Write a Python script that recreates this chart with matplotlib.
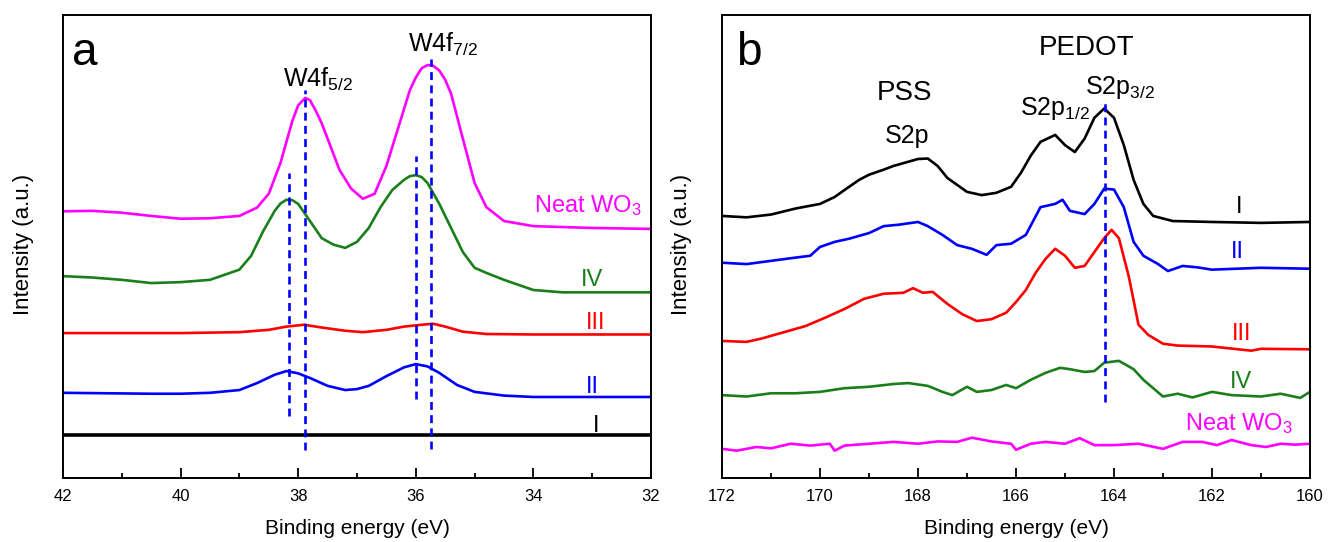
import matplotlib
matplotlib.use("Agg")
import matplotlib.pyplot as plt
from matplotlib.ticker import MultipleLocator

plt.rcParams['font.family'] = ['Liberation Sans', 'DejaVu Sans']
plt.rcParams['mathtext.fontset'] = 'custom'
plt.rcParams['mathtext.rm'] = 'Liberation Sans'

# ---------------- Panel a : W4f ----------------
a_neat_x = [42, 41.5, 41, 40.5, 40, 39.5, 39, 38.7, 38.5, 38.3, 38.1, 38.0, 37.88, 37.8, 37.7, 37.6, 37.5, 37.3,
            37.1, 36.9, 36.7, 36.5, 36.3, 36.1, 36.0, 35.9, 35.8, 35.7, 35.6, 35.5, 35.4, 35.2, 35.0, 34.8, 34.5,
            34.0, 33, 32]
a_neat_y = [57.6, 57.7, 57.3, 56.6, 56.0, 56.1, 56.6, 58.4, 61.4, 68.1, 77.1, 80.5, 82.1, 81.6, 79.3, 76.6, 73.3,
            66.6, 62.5, 60.3, 61.4, 67.4, 75.6, 83.8, 86.5, 88.5, 89.2, 89.0, 88.0, 86.0, 83.0, 73.3, 63.7, 58.5,
            55.5, 54.4, 54.0, 53.8]

a_iv_x = [42, 41.5, 41, 40.5, 40, 39.5, 39, 38.8, 38.6, 38.4, 38.3, 38.2, 38.1, 38.0, 37.8, 37.6, 37.4, 37.2, 37.0,
          36.8, 36.6, 36.4, 36.2, 36.1, 36.0, 35.9, 35.8, 35.6, 35.4, 35.2, 35.0, 34.8, 34.5, 34.0, 33.5, 33, 32]
a_iv_y = [43.6, 43.3, 42.8, 42.1, 42.3, 42.8, 45.0, 48.0, 53.2, 57.7, 59.3, 60.1, 60.0, 59.2, 55.5, 51.8, 50.4,
          49.7, 51.0, 54.0, 58.5, 62.2, 64.4, 65.2, 65.4, 65.0, 63.7, 59.2, 54.0, 48.8, 45.4, 44.3, 42.8, 40.6,
          40.1, 40.1, 40.1]

a_iii_x = [42, 40, 39, 38.5, 38.2, 37.9, 37.6, 37.2, 36.9, 36.5, 36.2, 35.9, 35.7, 35.5, 35.2, 34.8, 34, 32]
a_iii_y = [31.3, 31.3, 31.5, 32.0, 32.7, 33.1, 32.5, 31.8, 31.5, 32.0, 32.7, 33.1, 33.3, 32.7, 31.6, 31.1, 31.0,
           31.0]

a_ii_x = [42, 40.5, 40, 39.5, 39, 38.7, 38.4, 38.2, 38.0, 37.8, 37.5, 37.2, 37.0, 36.8, 36.5, 36.2, 36.0, 35.8,
          35.6, 35.3, 35.0, 34.5, 34, 32]
a_ii_y = [18.4, 18.2, 18.2, 18.4, 19.0, 20.5, 22.3, 23.1, 22.6, 21.6, 19.9, 19.0, 19.2, 19.9, 22.0, 23.9, 24.6,
          24.1, 22.7, 20.1, 18.6, 17.8, 17.5, 17.5]

a_i_x = [42, 32]
a_i_y = [9.2, 9.2]

# dashed guide lines (x, y_bottom, y_top)
a_guides_x = [38.16, 37.88, 36.0, 35.74]
a_guides_y0 = [13.4, 6.0, 17.1, 6.3]
a_guides_y1 = [65.9, 83.8, 69.6, 90.5]

# ---------------- Panel b : S2p ----------------
b_i_x = [172, 171.5, 171, 170.5, 170, 169.7, 169.5, 169.2, 169.0, 168.7, 168.5, 168.2, 168.0, 167.8, 167.6, 167.4,
         167.2, 167.0, 166.7, 166.4, 166.1, 165.9, 165.7, 165.5, 165.2, 165.0, 164.8, 164.6, 164.4, 164.2, 164.0,
         163.8, 163.6, 163.4, 163.2, 162.8, 162, 161, 160]
b_i_y = [56.6, 56.3, 56.9, 58.2, 59.2, 60.7, 62.2, 64.4, 65.5, 66.6, 67.4, 68.3, 68.9, 69.0, 67.4, 64.8,
         63.3, 61.8, 61.1, 61.6, 62.9, 65.9, 69.6, 72.6, 74.1, 71.9, 70.4, 73.3, 77.8, 79.8, 77.8,
         71.9, 64.4, 59.2, 56.6, 55.5, 55.3, 55.1, 55.3]

b_ii_x = [172, 171.5, 171, 170.5, 170.2, 170.0, 169.7, 169.4, 169.0, 168.7, 168.4, 168.0, 167.8, 167.5, 167.2,
          166.9, 166.6, 166.4, 166.1, 165.8, 165.5, 165.2, 165.05, 164.9, 164.6, 164.4, 164.2, 164.0, 163.8, 163.6,
          163.4, 163.1, 162.9, 162.6, 162.3, 162, 161, 160]
b_ii_y = [46.5, 46.2, 46.9, 47.6, 48.0, 49.9, 51.0, 51.7, 52.9, 54.4, 54.7, 55.3, 54.4, 52.5, 50.3,
          49.5, 48.2, 50.3, 50.6, 52.5, 58.5, 59.2, 60.1, 57.7, 57.0, 59.2, 62.5, 62.3, 58.5, 51.0,
          48.0, 46.2, 44.7, 45.8, 45.5, 45.0, 45.4, 45.2]

b_iii_x = [172, 171.5, 171.2, 170.8, 170.3, 169.9, 169.5, 169.1, 168.7, 168.3, 168.1, 167.9, 167.7, 167.4, 167.1,
           166.8, 166.5, 166.2, 166.0, 165.8, 165.6, 165.4, 165.2, 165.0, 164.8, 164.6, 164.4, 164.2, 164.05, 163.9,
           163.7, 163.5, 163.3, 163.0, 162.7, 162, 161.2, 161, 160]
b_iii_y = [29.6, 29.4, 30.1, 31.3, 32.8, 34.6, 36.5, 38.7, 39.8, 40.0, 41.0, 40.0, 40.2, 37.6, 35.4,
           33.9, 34.3, 35.7, 38.0, 40.6, 44.3, 47.3, 49.5, 48.0, 45.4, 45.8, 48.8, 51.8, 53.6, 51.8,
           43.6, 33.1, 30.9, 29.0, 28.6, 28.4, 27.5, 27.9, 27.8]

b_iv_x = [172, 171.5, 171, 170.5, 170, 169.5, 169, 168.5, 168.2, 167.8, 167.5, 167.3, 167.0, 166.8, 166.5, 166.2,
          166.0, 165.7, 165.4, 165.1, 164.9, 164.6, 164.4, 164.2, 163.9, 163.6, 163.4, 163.0, 162.7, 162.4, 162,
          161.6, 161, 160.6, 160.2, 160]
b_iv_y = [17.9, 17.6, 18.3, 18.3, 18.6, 19.4, 19.7, 20.3, 20.5, 19.9, 18.6, 17.9, 19.7, 18.6, 19.0, 20.1,
          19.4, 21.2, 22.7, 23.8, 23.5, 22.9, 23.1, 24.9, 25.3, 23.5, 21.2, 17.6, 18.2, 17.4, 18.6,
          17.9, 17.6, 18.2, 17.3, 18.6]

b_neat_x = [172, 171.7, 171.3, 171, 170.6, 170.2, 169.8, 169.7, 169.5, 169, 168.5, 168, 167.6, 167.2, 166.9, 166.5,
            166.1, 166.0, 165.7, 165.4, 165.0, 164.7, 164.4, 164.0, 163.5, 163.0, 162.6, 162.2, 161.9, 161.6, 161.2,
            160.9, 160.6, 160.3, 160]
b_neat_y = [6.3, 5.9, 6.7, 6.4, 7.4, 7.0, 7.4, 5.9, 7.0, 7.4, 7.8, 7.4, 7.9, 7.8, 8.7, 7.9,
            7.4, 6.1, 7.4, 7.8, 7.4, 8.6, 7.1, 7.1, 7.4, 6.3, 7.8, 7.8, 7.1, 8.2, 7.1,
            6.7, 7.4, 7.2, 7.4]

b_guide_x = 164.19
b_guide_y0 = 16.4
b_guide_y1 = 81.5

a_xticks = [42, 40, 38, 36, 34, 32]
b_xticks = [172, 170, 168, 166, 164, 162, 160]

MAG = '#ff00ff'
GRN = '#1a7f1a'
RED = '#ff0000'
BLU = '#0000ff'
BLK = '#000000'

W, H = 1328, 542
fig = plt.figure(figsize=(W / 100, H / 100), dpi=100)
bot, top = 478, 15
axa = fig.add_axes([63 / W, (H - bot) / H, (651 - 63) / W, (bot - top) / H])
axb = fig.add_axes([722 / W, (H - bot) / H, (1310 - 722) / W, (bot - top) / H])

def style(ax, xl, ticks):
    ax.set_xlim(*xl)
    ax.set_ylim(0, 100)
    ax.set_yticks([])
    ax.set_xticks(ticks)
    ax.xaxis.set_minor_locator(MultipleLocator(1))
    ax.tick_params(axis='x', which='major', direction='in', length=7.2, width=1.3, labelsize=12, pad=8)
    ax.tick_params(axis='x', which='minor', direction='in', length=3.8, width=1.3)
    for s in ax.spines.values():
        s.set_linewidth(1.4)
    ax.set_xlabel('Binding energy (eV)', fontsize=15, labelpad=11)

LW = 1.9
# panel a
axa.plot(a_neat_x, a_neat_y, color=MAG, lw=LW)
axa.plot(a_iv_x, a_iv_y, color=GRN, lw=LW)
axa.plot(a_iii_x, a_iii_y, color=RED, lw=LW)
axa.plot(a_ii_x, a_ii_y, color=BLU, lw=LW)
axa.plot(a_i_x, a_i_y, color=BLK, lw=2.6)
for gx, g0, g1 in zip(a_guides_x, a_guides_y0, a_guides_y1):
    axa.plot([gx, gx], [g0, g1], color=BLU, lw=1.9, ls=(0, (3, 2)))
style(axa, (42, 32), a_xticks)
CL = 17
axa.text(41.63, 91.9, 'a', fontsize=33, ha='center', va='center')
axa.text(38.26, 84.4, r'W4f$\mathregular{_{5/2}}$', fontsize=18, ha='left', va='baseline')
axa.text(36.13, 92.0, r'W4f$\mathregular{_{7/2}}$', fontsize=18, ha='left', va='baseline')
axa.text(32.15, 57.5, r'Neat WO$\mathregular{_3}$', fontsize=CL, color=MAG, ha='right', va='baseline')
axa.text(33.0, 41.5, 'IV', fontsize=CL, color=GRN, ha='center', va='baseline')
axa.text(32.95, 32.2, 'III', fontsize=CL, color=RED, ha='center', va='baseline')
axa.text(33.0, 18.4, 'II', fontsize=CL, color=BLU, ha='center', va='baseline')
axa.text(32.94, 9.9, 'I', fontsize=CL, color=BLK, ha='center', va='baseline')

# panel b
axb.plot(b_i_x, b_i_y, color=BLK, lw=LW)
axb.plot(b_ii_x, b_ii_y, color=BLU, lw=LW)
axb.plot(b_iii_x, b_iii_y, color=RED, lw=LW)
axb.plot(b_iv_x, b_iv_y, color=GRN, lw=LW)
axb.plot(b_neat_x, b_neat_y, color=MAG, lw=LW)
axb.plot([b_guide_x, b_guide_x], [b_guide_y0, b_guide_y1], color=BLU, lw=1.9, ls=(0, (3, 2)))
style(axb, (172, 160), b_xticks)
axb.text(171.45, 91.9, 'b', fontsize=33, ha='center', va='center')
axb.text(164.57, 91.4, 'PEDOT', fontsize=20, ha='center', va='baseline')
axb.text(168.27, 81.6, 'PSS', fontsize=20, ha='center', va='baseline')
axb.text(168.22, 72.3, 'S2p', fontsize=18, ha='center', va='baseline')
axb.text(165.92, 78.4, r'S2p$\mathregular{_{1/2}}$', fontsize=18, ha='left', va='baseline')
axb.text(164.59, 82.9, r'S2p$\mathregular{_{3/2}}$', fontsize=18, ha='left', va='baseline')
axb.text(161.45, 57.2, 'I', fontsize=CL, color=BLK, ha='center', va='baseline')
axb.text(161.49, 47.5, 'II', fontsize=CL, color=BLU, ha='center', va='baseline')
axb.text(161.39, 29.8, 'III', fontsize=CL, color=RED, ha='center', va='baseline')
axb.text(161.41, 19.4, 'IV', fontsize=CL, color=GRN, ha='center', va='baseline')
axb.text(160.35, 10.4, r'Neat WO$\mathregular{_3}$', fontsize=CL, color=MAG, ha='right', va='baseline')

# y labels
for xp in (23, 681):
    fig.text(xp / W, 1 - 244 / H, 'Intensity (a.u.)', fontsize=16, rotation=90, ha='center', va='center')

fig.savefig('out.png', dpi=100)
